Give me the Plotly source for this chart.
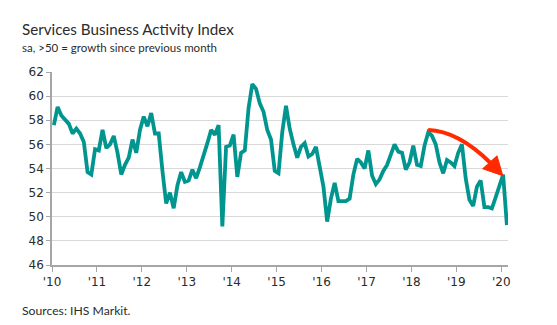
import plotly.graph_objects as go

# ---- data (monthly, Jan 2010 - Feb 2020) ----
start_year = 2010
values_2010 = [57.6, 59.1, 58.4, 58.0, 57.7, 56.9, 57.3, 56.9, 56.2, 53.7, 53.5, 55.6]
values_2011 = [55.5, 57.2, 55.7, 56.0, 56.7, 55.3, 53.5, 54.3, 54.9, 56.4, 55.3, 57.2]
values_2012 = [58.3, 57.5, 58.6, 56.9, 56.9, 53.8, 51.1, 52.0, 50.7, 52.6, 53.7, 52.9]
values_2013 = [53.0, 53.9, 53.2, 54.1, 55.0, 56.1, 57.2, 56.8, 57.6, 49.2, 55.8, 55.9]
values_2014 = [56.8, 53.3, 55.3, 55.5, 59.0, 61.0, 60.6, 59.4, 58.7, 57.2, 56.4, 53.8]
values_2015 = [53.6, 57.0, 59.2, 57.3, 56.0, 54.9, 55.8, 56.1, 55.0, 55.2, 55.8, 54.0]
values_2016 = [52.5, 49.6, 51.5, 52.8, 51.3, 51.3, 51.3, 51.5, 53.5, 54.8, 54.5, 54.0]
values_2017 = [55.5, 53.4, 52.7, 53.1, 53.8, 54.3, 55.2, 56.0, 55.4, 55.3, 53.9, 54.5]
values_2018 = [55.9, 54.3, 54.2, 55.9, 57.0, 56.7, 56.0, 54.5, 53.6, 54.7, 54.5, 54.2]
values_2019 = [55.3, 56.0, 53.2, 51.4, 50.9, 52.5, 53.0, 50.8, 50.8, 50.7, 51.6, 52.6]
values_2020 = [53.5, 49.3]

values = (values_2010 + values_2011 + values_2012 + values_2013 + values_2014 +
          values_2015 + values_2016 + values_2017 + values_2018 + values_2019 + values_2020)
# decimal-year position of each monthly observation (mid-month)
x_vals = [start_year + (i + 0.5) / 12 for i in range(len(values))]

tick_years = list(range(2010, 2021))
tick_labels = ["'10", "'11", "'12", "'13", "'14", "'15", "'16", "'17", "'18", "'19", "'20"]
y_ticks = [46, 48, 50, 52, 54, 56, 58, 60, 62]

title_text = "Services Business Activity Index"
subtitle_text = "sa, &gt;50 = growth since previous month"
source_text = "Sources: IHS Markit."

LINE = "#00968f"
ARROW = "#ff2a00"
TEXT = "#2b2b2b"
TITLE_FONT = "Lato"
TICK_FONT = "DejaVu Sans"

fig = go.Figure()
fig.add_trace(go.Scatter(x=x_vals, y=values, mode="lines",
                         line=dict(color=LINE, width=3.8, shape="linear"),
                         hoverinfo="skip", showlegend=False))

# curved red trend arrow (annotation)
arrow_start = (2018.374, 57.19)
arrow_ctrl = (2019.036, 57.11)
arrow_end = (2019.749, 54.50)
head_tip = (2020.035, 53.40)
head_w1 = (2019.585, 53.98)
head_w2 = (2019.905, 55.05)

fig.add_shape(type="path", xref="x", yref="y",
              path=f"M {arrow_start[0]},{arrow_start[1]} Q {arrow_ctrl[0]},{arrow_ctrl[1]} {arrow_end[0]},{arrow_end[1]}",
              line=dict(color=ARROW, width=4))
fig.add_shape(type="path", xref="x", yref="y",
              path=f"M {head_w1[0]},{head_w1[1]} L {head_tip[0]},{head_tip[1]} L {head_w2[0]},{head_w2[1]} Z",
              fillcolor=ARROW, line=dict(color=ARROW, width=1))

L, R, T, B = 52, 49, 72, 60
W, H = 557, 325
pw, ph = W - L - R, H - T - B

def px_to_paper(px, py):
    return (px - L) / pw, (H - B - py) / ph

tx, ty = px_to_paper(20, 29)
sx, sy = px_to_paper(20, 47)
fx, fy = px_to_paper(20, 310)

fig.add_annotation(text=title_text, xref="paper", yref="paper", x=tx, y=ty,
                   xanchor="left", yanchor="middle", showarrow=False,
                   font=dict(family=TITLE_FONT, size=15.2, color=TEXT))
fig.add_annotation(text=subtitle_text, xref="paper", yref="paper", x=sx, y=sy,
                   xanchor="left", yanchor="middle", showarrow=False,
                   font=dict(family=TITLE_FONT, size=11.5, color=TEXT))
fig.add_annotation(text=source_text, xref="paper", yref="paper", x=fx, y=fy,
                   xanchor="left", yanchor="middle", showarrow=False,
                   font=dict(family=TITLE_FONT, size=12.2, color=TEXT))

fig.update_layout(
    width=W, height=H,
    margin=dict(l=L, r=R, t=T, b=B, pad=0),
    paper_bgcolor="white", plot_bgcolor="white",
    showlegend=False,
    xaxis=dict(range=[2010, 2020.15], tickvals=tick_years, ticktext=tick_labels,
               showgrid=False, zeroline=False, showline=True, linecolor="#a6a6a6",
               linewidth=1.5, ticks="outside", ticklen=5, tickcolor="#a6a6a6",
               tickwidth=1.2, tickfont=dict(family=TICK_FONT, size=12, color=TEXT)),
    yaxis=dict(range=[46, 62], tickvals=y_ticks, showgrid=True, gridcolor="#d9d9d9",
               gridwidth=1.2, zeroline=False, showline=True, linecolor="#a6a6a6",
               linewidth=1.5, ticks="outside", ticklen=4, tickcolor="#a6a6a6",
               tickwidth=1.2, tickfont=dict(family=TICK_FONT, size=12, color=TEXT)),
)

fig.write_html("out.html")
